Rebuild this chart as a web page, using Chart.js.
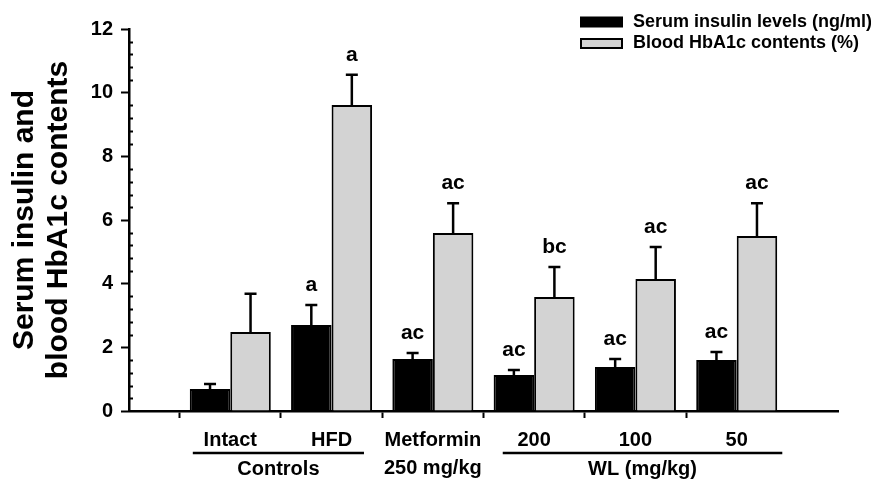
<!DOCTYPE html>
<html>
<head>
<meta charset="utf-8">
<script src="https://cdn.jsdelivr.net/npm/chart.js@4.4.0/dist/chart.umd.min.js"></script>
<style>
  html, body { margin: 0; padding: 0; background: #fff; }
</style>
</head>
<body>
<canvas id="chart" width="871" height="481"></canvas>
<script>
// groups on the x axis (blank slots at both ends keep the axis margin)
const groups = ['', 'Intact', 'HFD', ['Metformin', '250 mg/kg'], '200', '100', '50', ''];
const insulin = [null, 0.69, 2.70, 1.63, 1.13, 1.38, 1.60, null];
const insulinErr = [null, 0.16, 0.63, 0.19, 0.16, 0.25, 0.25, null];
const hba1c = [null, 2.48, 9.61, 5.59, 3.58, 4.15, 5.50, null];
const hba1cErr = [null, 1.20, 0.95, 0.94, 0.94, 1.00, 1.03, null];
const insulinSig = ['', '', 'a', 'ac', 'ac', 'ac', 'ac', ''];
const hba1cSig = ['', '', 'a', 'ac', 'bc', 'ac', 'ac', ''];
const seriesNames = ['Serum insulin levels (ng/ml)', 'Blood HbA1c contents (%)'];
const groupNames = ['Controls', 'WL (mg/kg)'];
const groupSpans = [[1, 2], [4, 6]];

const FONT = '"Liberation Sans", Arial, sans-serif';

const errorBars = {
  id: 'errorBars',
  afterDatasetsDraw(chart) {
    const ctx = chart.ctx;
    const y = chart.scales.y;
    chart.data.datasets.forEach((ds, di) => {
      const meta = chart.getDatasetMeta(di);
      meta.data.forEach((bar, i) => {
        if (ds.data[i] == null) return;
        const top = y.getPixelForValue(ds.data[i] + ds.errors[i]);
        ctx.save();
        ctx.strokeStyle = '#000';
        ctx.lineWidth = 2.5;
        ctx.beginPath();
        ctx.moveTo(bar.x, bar.y);
        ctx.lineTo(bar.x, top);
        ctx.moveTo(bar.x - 6, top);
        ctx.lineTo(bar.x + 6, top);
        ctx.stroke();
        if (ds.sig[i]) {
          ctx.fillStyle = '#000';
          ctx.font = 'bold 21px ' + FONT;
          ctx.textAlign = 'center';
          ctx.textBaseline = 'middle';
          ctx.fillText(ds.sig[i], bar.x, top - 20);
        }
        ctx.restore();
      });
    });
  }
};

const minorTicks = {
  id: 'minorTicks',
  afterDraw(chart) {
    const ctx = chart.ctx;
    const y = chart.scales.y;
    const x0 = chart.chartArea.left;
    ctx.save();
    ctx.strokeStyle = '#000';
    ctx.lineWidth = 2;
    ctx.beginPath();
    for (let i = 1; i < 30; i++) {
      if (i % 5 === 0) continue;
      const py = Math.round(y.getPixelForValue(i * 0.4)) + 0.5;
      ctx.moveTo(x0, py);
      ctx.lineTo(x0 + 4, py);
    }
    ctx.stroke();
    ctx.restore();
  }
};

const groupLines = {
  id: 'groupLines',
  afterDraw(chart) {
    const ctx = chart.ctx;
    const x = chart.scales.x;
    const step = x.getPixelForValue(1) - x.getPixelForValue(0);
    const ext = [[0.37, 0.32], [0.31, 0.45]];
    ctx.save();
    ctx.strokeStyle = '#000';
    ctx.fillStyle = '#000';
    ctx.lineWidth = 2.5;
    ctx.font = 'bold 20px ' + FONT;
    ctx.textAlign = 'center';
    ctx.textBaseline = 'middle';
    groupSpans.forEach((span, gi) => {
      const a = x.getPixelForValue(span[0]) - ext[gi][0] * step;
      const b = x.getPixelForValue(span[1]) + ext[gi][1] * step;
      const ly = x.top + 42;
      ctx.beginPath();
      ctx.moveTo(a, ly);
      ctx.lineTo(b, ly);
      ctx.stroke();
      ctx.fillText(groupNames[gi], (a + b) / 2, ly + 16);
    });
    ctx.restore();
  }
};

const boxLegend = {
  id: 'boxLegend',
  afterDraw(chart) {
    const ctx = chart.ctx;
    ctx.save();
    ctx.font = 'bold 18px ' + FONT;
    ctx.textBaseline = 'middle';
    ctx.textAlign = 'left';
    chart.data.datasets.forEach((ds, i) => {
      const cy = 22 + i * 21.5;
      ctx.fillStyle = ds.backgroundColor;
      ctx.fillRect(581, cy - 4.5, 41, 9);
      ctx.strokeStyle = '#000';
      ctx.lineWidth = 2;
      ctx.strokeRect(581, cy - 4.5, 41, 9);
      ctx.fillStyle = '#000';
      ctx.fillText(ds.label, 633, cy);
    });
    ctx.restore();
  }
};

new Chart(document.getElementById('chart'), {
  type: 'bar',
  data: {
    labels: groups,
    datasets: [
      {
        label: seriesNames[0],
        data: insulin,
        errors: insulinErr,
        sig: insulinSig,
        backgroundColor: '#000000',
        borderColor: '#000000',
        borderWidth: 2,
        categoryPercentage: 0.8,
        barPercentage: 1.0
      },
      {
        label: seriesNames[1],
        data: hba1c,
        errors: hba1cErr,
        sig: hba1cSig,
        backgroundColor: '#d3d3d3',
        borderColor: '#000000',
        borderWidth: 2,
        categoryPercentage: 0.8,
        barPercentage: 1.0
      }
    ]
  },
  options: {
    responsive: false,
    animation: false,
    layout: { padding: { top: 29, right: 33, left: 0, bottom: 0 } },
    plugins: {
      legend: { display: false },
      tooltip: { enabled: false }
    },
    scales: {
      x: {
        offset: false,
        afterFit(scale) { scale.height = 70; },
        border: { display: true, color: '#000', width: 2.5 },
        grid: {
          drawOnChartArea: false,
          drawTicks: true,
          tickLength: 7,
          tickWidth: 2,
          tickColor: (c) => (groups[c.index] === '' ? 'rgba(0,0,0,0)' : '#000')
        },
        ticks: {
          autoSkip: false,
          maxRotation: 0,
          color: '#000',
          padding: 8,
          font: { family: FONT, size: 20, weight: 'bold', lineHeight: 1.4 }
        }
      },
      y: {
        min: 0,
        max: 12,
        afterFit(scale) { scale.width = 129; },
        border: { display: true, color: '#000', width: 2.5 },
        grid: {
          drawOnChartArea: false,
          drawTicks: true,
          tickLength: 8,
          tickWidth: 2,
          tickColor: '#000'
        },
        ticks: {
          stepSize: 2,
          color: '#000',
          padding: 8,
          font: { family: FONT, size: 20, weight: 'bold' }
        },
        title: {
          display: true,
          text: ['Serum insulin and', 'blood HbA1c contents'],
          color: '#000',
          padding: { top: 7, bottom: 0 },
          font: { family: FONT, size: 30, weight: 'bold', lineHeight: 1.15 }
        }
      }
    }
  },
  plugins: [errorBars, minorTicks, groupLines, boxLegend]
});
</script>
</body>
</html>
